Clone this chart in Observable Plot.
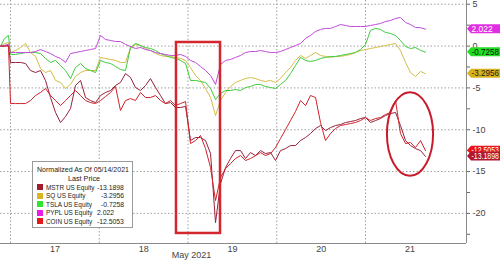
<!DOCTYPE html>
<html><head><meta charset="utf-8">
<script src="https://cdn.jsdelivr.net/npm/d3@7"></script>
<script src="https://cdn.jsdelivr.net/npm/@observablehq/plot@0.6"></script>
<style>
html,body{margin:0;padding:0;background:#fff;}
#wrap{position:relative;width:500px;height:262px;overflow:hidden;font-family:"Liberation Sans",Arial,sans-serif;}
#legend{position:absolute;left:32px;top:161px;width:101px;height:67px;border:1px solid #9a9a9a;background:#fff;font-size:8px;line-height:8px;color:#222;box-sizing:border-box;}
#legend .t{position:absolute;white-space:nowrap;transform-origin:0 0;}
#legend .sq{position:absolute;left:4px;width:6px;height:6px;}
</style></head><body><div id="wrap"></div>
<script>
// session-time axis: day 17 spans [0,1], day 18 [1,2], ...
const times = [-0.113,-0.068,-0.023,0,0.056,0.113,0.169,0.225,0.282,0.338,0.394,0.451,0.507,0.563,0.62,0.676,0.732,0.789,0.845,0.901,0.958,1.014,1.07,1.127,1.183,1.239,1.296,1.352,1.408,1.465,1.521,1.577,1.634,1.69,1.746,1.803,1.859,1.915,1.972,2.028,2.085,2.141,2.197,2.254,2.31,2.366,2.423,2.479,2.535,2.592,2.648,2.704,2.761,2.817,2.873,2.93,2.986,3.042,3.099,3.155,3.211,3.268,3.324,3.38,3.437,3.493,3.549,3.606,3.662,3.718,3.775,3.831,3.887,3.944,4.0,4.056,4.113,4.169,4.225,4.282,4.338,4.394,4.451,4.507,4.563,4.62,4.676];

const seriesNames = ["MSTR US Equity","SQ US Equity","TSLA US Equity","PYPL US Equity","COIN US Equity"];
const lastPrices = [-13.1898,-3.2956,-0.7258,2.022,-12.5053];
const lastPriceText = ["-13.1898","-3.2956","-0.7258","2.022","-12.5053"];

const mstr = [0,0,0.1,-1.96,-1.96,-1.96,-2.08,-2.92,-3.16,-2.92,-4.11,-6.15,-7.94,-9.14,-8.42,-7.46,-4.71,-4.11,-6.15,-6.51,-6.75,-5.91,-5.55,-5.31,-4.71,-4.35,-3.28,-3.76,-4.95,-5.31,-4.71,-3.88,-4.95,-5.91,-6.87,-6.75,-7.34,-7.34,-7.22,-11.29,-10.93,-10.93,-11.29,-12.85,-21.1,-16.44,-14.52,-13.44,-12.49,-12.49,-13.44,-12.73,-13.09,-12.49,-12.85,-12.73,-13.68,-12.49,-12.25,-11.89,-11.89,-11.29,-10.93,-10.45,-9.86,-9.5,-10.1,-9.74,-9.5,-9.38,-9.14,-9.02,-8.9,-8.66,-8.54,-9.14,-8.9,-8.66,-8.3,-8.06,-7.94,-9.5,-11.29,-11.89,-12.25,-12.49,-13.19];
const sq = [0,0.31,0.43,-0.77,-0.53,-0.17,0.31,-0.77,-1.24,-2.68,-3.16,-2.92,-4.11,-4.35,-5.07,-4.59,-3.64,-3.16,-2.92,-2.92,-2.92,-1.36,-1.48,-1.6,-1.72,-1.96,-1.96,-0.17,0.19,0.07,-0.29,-0.53,-0.89,-1.12,-1.24,-1.24,-1.36,-1.48,-1.72,-2.56,-3.52,-4.11,-5.07,-6.15,-8.3,-6.51,-5.55,-4.83,-4.35,-4.11,-3.88,-3.76,-3.88,-4.11,-4.23,-4.11,-4.35,-3.88,-3.16,-2.56,-1.72,-1.12,-1.48,-1.12,-0.77,-1.12,-1.24,-1.36,-1.24,-1.24,-1.12,-1.0,-0.77,-0.53,-0.41,-0.29,-0.17,-0.05,0.07,0.19,0.31,-0.53,-1.96,-3.16,-3.64,-3.04,-3.3];
const tsla = [0,0.9,1.27,-1.0,-1.0,-0.89,-0.77,-0.77,-0.77,-0.89,-1.48,-1.96,-1.72,-2.32,-2.92,-3.88,-2.56,-2.08,-2.68,-2.92,-3.16,-1.72,-1.96,-2.08,-2.44,-2.8,-2.92,-0.17,0.31,0.07,-0.17,-0.29,-0.53,-0.89,-1.12,-1.36,-1.48,-1.72,-2.08,-4.11,-4.11,-4.23,-4.35,-5.07,-6.39,-5.67,-5.31,-5.31,-5.19,-5.31,-4.95,-4.83,-4.59,-4.59,-4.83,-4.95,-5.07,-4.59,-4.11,-3.28,-2.32,-1.36,-1.72,-1.84,-1.72,-1.48,-1.36,-1.24,-1.24,-1.12,-1.0,-0.89,-0.77,-0.41,0.19,1.87,2.11,1.99,1.63,1.51,1.27,0.67,-0.05,-0.29,-0.17,-0.5,-0.73];
const pypl = [0,0.1,0.2,-0.77,-0.77,-0.77,-0.77,-0.77,-0.65,-0.41,-0.65,-0.89,-1.24,-1.48,-1.96,-0.89,-0.77,-0.65,-0.53,-0.41,-0.29,1.27,0.79,0.67,0.55,0.55,0.19,-0.05,-0.29,-0.17,-0.41,-0.53,-0.77,-0.89,-1.0,-1.12,-1.12,-1.0,-1.24,-1.72,-1.96,-2.44,-2.92,-3.52,-4.59,-2.2,-1.72,-1.6,-1.36,-1.12,-0.77,-0.65,-0.65,-0.53,-0.65,-0.77,-0.77,-0.65,-0.41,-0.17,0.07,0.31,0.91,1.27,1.75,1.99,2.11,2.11,2.34,2.58,2.46,2.34,2.34,2.34,2.34,2.46,2.58,2.7,2.94,3.06,3.3,3.42,2.82,2.58,2.22,2.2,2.02];
const coin = [0,0,0,-6.87,-6.87,-6.87,-6.87,-6.51,-5.91,-5.55,-5.07,-5.91,-6.51,-7.11,-6.51,-5.91,-5.31,-5.91,-6.51,-6.75,-6.87,-6.51,-6.03,-5.55,-4.83,-7.7,-6.51,-6.27,-6.51,-5.55,-6.15,-6.15,-5.91,-6.51,-6.87,-6.51,-7.11,-6.87,-6.63,-11.65,-11.29,-10.69,-12.25,-14.52,-18.47,-15.72,-14.64,-14.04,-13.44,-13.09,-13.68,-13.44,-13.09,-12.73,-13.09,-12.85,-12.13,-11.05,-9.98,-8.9,-7.82,-6.51,-7.11,-5.91,-6.15,-9.14,-11.29,-10.45,-9.86,-9.5,-9.38,-9.26,-9.14,-8.9,-8.54,-8.9,-8.66,-8.54,-8.18,-7.94,-6.51,-10.45,-11.65,-11.53,-12.13,-11.29,-12.5];

const yTicks = [5,0,-5,-10,-15,-20];
const yMinor = [2.5,-2.5,-7.5,-12.5,-17.5,-22.5];
const dayBounds = [0,1,2,3,4];
const dayCenters = [0.5,1.5,2.5,3.5,4.5];
const dayLabels = ["17","18","19","20","21"];
const monthLabel = [{t:2.04, text:"May 2021"}];
const legendTitle = ["Normalized As Of 05/14/2021","Last Price"];
const focusBox = [{t1:1.87, t2:2.366, v1:0.43, v2:-22.4}];
const focusEllipse = {t:4.507, v:-10.57, dt:0.26, dv:5.0};

const lineColors = ["#95213c","#d4bd45","#3dcc3d","#c04ada","#d0222a"];
const swatchColors = ["#a31b2f","#d9b526","#2ee62e","#e81ee8","#e61919"];
const tagColors = ["#b3172e","#d6b21c","#22dd22","#e22ee2","#e8141c"];
const tagText = ["#fff","#222","#111","#fff","#fff"];

const allSeries = [mstr, sq, tsla, pypl, coin];
const data = [];
allSeries.forEach((vals, si) => vals.forEach((v, i) => data.push({t: times[i], v, s: seriesNames[si]})));

const X0 = -0.113, X1 = 5.138, Y0 = -23.6, Y1 = 5.45;
const grid = {stroke:"#a0a0a0", strokeDasharray:"1.5,2", strokeWidth:1};

const chart = Plot.plot({
  width: 500, height: 262,
  marginLeft: 0, marginRight: 34, marginTop: 0, marginBottom: 19,
  style: {fontFamily: '"Liberation Sans", Arial, sans-serif', fontSize: "9px", color: "#333", background: "transparent", overflow: "visible"},
  x: {domain: [X0, X1]},
  y: {domain: [Y0, Y1]},
  color: {domain: seriesNames, range: lineColors},
  marks: [
    Plot.ruleY(yTicks, grid),
    Plot.ruleX(dayBounds, grid),
    Plot.line(data, {x: "t", y: "v", z: "s", stroke: "s", strokeWidth: 1}),
    Plot.ruleX([X1], {stroke: "#8a8a8a"}),
    Plot.ruleY([Y0], {stroke: "#8a8a8a"}),
    Plot.axisY({anchor: "right", ticks: yTicks, tickSize: 3, tickPadding: 3, tickFormat: d => String(d), label: null, stroke: "#666", fill: "#444"}),
    Plot.axisY({anchor: "right", ticks: yMinor, tickSize: 3, tickFormat: () => "", label: null, stroke: "#666"}),
    Plot.axisX({anchor: "bottom", ticks: dayCenters, tickSize: 0, tickPadding: 2, tickFormat: d => dayLabels[dayCenters.indexOf(d)], label: null, fill: "#444"}),
    Plot.text(monthLabel, {x: "t", text: "text", frameAnchor: "bottom", dy: 14, fill: "#444", fontSize: 9}),
    Plot.rect(focusBox, {x1: "t1", x2: "t2", y1: "v1", y2: "v2", fill: "none", stroke: "#d3262f", strokeWidth: 2.5})
  ]
});

const wrap = document.getElementById("wrap");
wrap.appendChild(chart);

const sx = chart.scale("x"), sy = chart.scale("y");
const svg = d3.select(chart);
// ellipse annotation
const cx = sx.apply(focusEllipse.t), cy = sy.apply(focusEllipse.v);
svg.append("ellipse").attr("cx", cx).attr("cy", cy)
  .attr("rx", sx.apply(focusEllipse.t + focusEllipse.dt) - cx)
  .attr("ry", sy.apply(focusEllipse.v - focusEllipse.dv) - cy)
  .attr("fill", "none").attr("stroke", "#c81c2c").attr("stroke-width", 2);

// last-price tags
const xr = sx.apply(X1);
const maxW = 500 - (xr + 5.5) - 1;
[3, 2, 1, 4, 0].forEach(i => {
  const y = sy.apply(lastPrices[i]);
  const h = 4.5;
  svg.append("polygon")
    .attr("points", [[xr + 1, y], [xr + 5, y - h], [500, y - h], [500, y + h], [xr + 5, y + h]].map(p => p.join(",")).join(" "))
    .attr("fill", tagColors[i]);
  const t = svg.append("text").attr("x", xr + 5.5).attr("y", y).attr("dy", "0.36em")
    .attr("text-anchor", "start")
    .attr("fill", tagText[i]).attr("font-size", 8.5).text(lastPriceText[i]);
  const w = t.node().getComputedTextLength();
  if (w > maxW) t.attr("textLength", maxW).attr("lengthAdjust", "spacingAndGlyphs");
});

// legend
const lg = document.createElement("div");
lg.id = "legend";
const valLeft = [64, 68, 68, 64, 64];
let html = "";
html += `<div class="t" style="left:4px;top:4px;transform:scaleX(0.88)">${legendTitle[0]}</div>`;
html += `<div class="t" style="left:35px;top:12.5px;transform:scaleX(0.9)">${legendTitle[1]}</div>`;
seriesNames.forEach((n, i) => {
  const top = 22 + i * 8.5;
  html += `<div class="sq" style="top:${top}px;background:${swatchColors[i]}"></div>`;
  html += `<div class="t" style="left:13px;top:${top - 0.5}px;transform:scaleX(0.8)">${n}</div>`;
  html += `<div class="t" style="left:${valLeft[i]}px;top:${top - 0.5}px;transform:scaleX(0.85)">${lastPriceText[i]}</div>`;
});
lg.innerHTML = html;
wrap.appendChild(lg);
</script>
</body></html>
